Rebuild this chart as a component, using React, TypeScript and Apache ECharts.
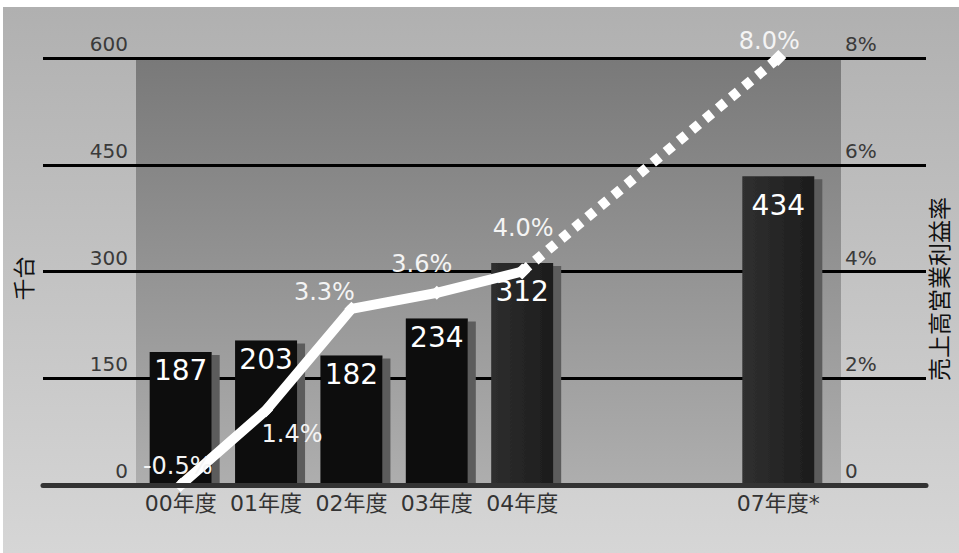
import React, { useEffect, useRef } from 'react';
import * as echarts from 'echarts';

// ---- data ----
const categories = ['00年度', '01年度', '02年度', '03年度', '04年度', '', '', '07年度*'];
const salesActual: (number | null)[] = [187, 203, 182, 234, 312, null, null, null];
const salesForecast: (number | null)[] = [null, null, null, null, null, null, null, 434];
const marginActual: (number | null)[] = [-0.5, 1.4, 3.3, 3.6, 4.0, null, null, null];
const marginForecast: (number | null)[] = [null, null, null, null, 4.0, null, null, 8.0];
const salesAxisTicks = { min: 0, max: 600, interval: 150 };
const marginAxisTicks = { min: 0, max: 8, interval: 2 };
const leftAxisName = '千台';
const rightAxisName = '売上高営業利益率';

// ---- styling / layout (not data) ----
const FONT = "'DejaVu Sans', 'Noto Sans CJK JP', sans-serif";
const marginLabelOffset: ([number, number] | null)[] = [
  [-3, -19], [26, 24], [-27, -17], [-15, -29], [1, -44], null, null, [-9, -17],
];
const barLabelDistance = [5, 5, 5, 5, 15, 5, 5, 15];

const grad = (c0: string, c1: string, horizontal = false) =>
  new echarts.graphic.LinearGradient(0, 0, horizontal ? 1 : 0, horizontal ? 0 : 1, [
    { offset: 0, color: c0 },
    { offset: 1, color: c1 },
  ]);

const barColor = (i: number) => {
  if (i < 4) return '#0b0b0b';
  if (i === 4) return grad('#2e2e2e', '#1c1c1c', true);
  return grad('#303030', '#1c1c1c', true);
};

const fmtPct = (v: number) => `${v.toFixed(1)}%`;

export default function App() {
  const ref = useRef<HTMLDivElement>(null);
  useEffect(() => {
    if (!ref.current) return;
    const chart = echarts.init(ref.current, undefined, { renderer: 'svg' });
    const floor = marginAxisTicks.min;

    const shadow = {
      shadowColor: '#5c5c5c',
      shadowBlur: 0,
      shadowOffsetX: 8,
      shadowOffsetY: 3,
    };

    const barLabel = {
      show: true,
      position: 'insideTop',
      color: '#ffffff',
      fontSize: 28,
      fontFamily: FONT,
    };

    const lineLabelBase = {
      show: true,
      position: 'inside',
      color: '#f4f4f4',
      fontSize: 24,
      fontFamily: FONT,
    };

    chart.setOption({
      animation: false,
      textStyle: { fontFamily: FONT },
      graphic: [
        {
          type: 'rect',
          z: -10,
          shape: { x: 3, y: 7, width: 956, height: 546 },
          style: { fill: grad('#b0b0b0', '#d6d6d6') },
          silent: true,
        },
        {
          type: 'rect',
          z: -9,
          shape: { x: 136, y: 58, width: 705, height: 427 },
          style: { fill: grad('#797979', '#aeaeae') },
          silent: true,
        },
      ],
      grid: [
        { left: 43, right: 33, top: 58, bottom: 68 },
        { left: 138, right: 133, top: 58, bottom: 68 },
      ],
      xAxis: [
        {
          gridIndex: 0,
          type: 'category',
          data: [''],
          z: 5,
          axisLine: { show: true, lineStyle: { color: '#333333', width: 5 } },
          axisTick: { show: false },
          axisLabel: { show: false },
          splitLine: { show: false },
        },
        {
          gridIndex: 1,
          type: 'category',
          data: categories,
          axisLine: { show: false },
          axisTick: { show: false },
          axisLabel: { color: '#333333', fontSize: 22, margin: 7, interval: 0, fontFamily: FONT },
        },
        {
          gridIndex: 1,
          type: 'category',
          data: categories,
          show: false,
        },
      ],
      yAxis: [
        {
          gridIndex: 0,
          type: 'value',
          ...salesAxisTicks,
          axisLine: { show: false },
          axisTick: { show: false },
          axisLabel: { show: false },
          splitLine: { show: true, lineStyle: { color: '#000000', width: 3 } },
        },
        {
          gridIndex: 1,
          type: 'value',
          position: 'left',
          ...salesAxisTicks,
          axisLine: { show: false },
          axisTick: { show: false },
          splitLine: { show: false },
          axisLabel: {
            color: '#3a3a3a',
            fontSize: 20,
            margin: 10,
            verticalAlign: 'bottom',
            padding: [0, 0, 4, 0],
            fontFamily: FONT,
          },
          name: leftAxisName,
          nameLocation: 'middle',
          nameRotate: 90,
          nameGap: 103,
          nameTextStyle: { color: '#111111', fontSize: 22, fontFamily: FONT, padding: [0, 0, 0, -14] },
        },
        {
          gridIndex: 1,
          type: 'value',
          position: 'right',
          ...marginAxisTicks,
          axisLine: { show: false },
          axisTick: { show: false },
          splitLine: { show: false },
          axisLabel: {
            color: '#3a3a3a',
            fontSize: 20,
            margin: 24,
            verticalAlign: 'bottom',
            padding: [0, 0, 4, 0],
            fontFamily: FONT,
            formatter: (v: number) => (v === 0 ? '0' : `${v}%`),
          },
          name: rightAxisName,
          nameLocation: 'middle',
          nameRotate: 90,
          nameGap: 107,
          nameTextStyle: { color: '#111111', fontSize: 23, fontFamily: FONT, padding: [0, 0, 0, -35] },
        },
      ],
      series: [
        {
          name: '販売台数',
          type: 'bar',
          xAxisIndex: 1,
          yAxisIndex: 1,
          barWidth: 62,
          z: 2,
          data: salesActual.map((v, i) =>
            v == null
              ? '-'
              : {
                  value: v,
                  itemStyle: { color: barColor(i), ...shadow },
                  label: { distance: barLabelDistance[i] },
                }
          ),
          label: barLabel,
        },
        {
          name: '販売台数(予)',
          type: 'bar',
          xAxisIndex: 2,
          yAxisIndex: 1,
          barWidth: 72,
          z: 2,
          data: salesForecast.map((v, i) =>
            v == null
              ? '-'
              : {
                  value: v,
                  itemStyle: { color: barColor(i), ...shadow },
                  label: { distance: barLabelDistance[i] },
                }
          ),
          label: barLabel,
        },
        {
          name: '売上高営業利益率',
          type: 'line',
          xAxisIndex: 1,
          yAxisIndex: 2,
          z: 4,
          symbol: 'diamond',
          symbolSize: 14,
          itemStyle: { color: '#ffffff' },
          lineStyle: { color: '#ffffff', width: 10, cap: 'butt' },
          data: marginActual.map((v, i) =>
            v == null
              ? '-'
              : {
                  value: Math.max(v, floor),
                  label: { offset: marginLabelOffset[i] || [0, 0] },
                }
          ),
          label: {
            ...lineLabelBase,
            formatter: (p: any) => fmtPct(marginActual[p.dataIndex] as number),
          },
        },
        {
          name: '売上高営業利益率(予)',
          type: 'line',
          xAxisIndex: 1,
          yAxisIndex: 2,
          z: 4,
          connectNulls: true,
          symbol: 'diamond',
          symbolSize: 16,
          itemStyle: { color: '#ffffff' },
          lineStyle: { color: '#ffffff', width: 10, type: [9, 8], cap: 'butt' },
          data: marginForecast.map((v, i) =>
            v == null
              ? '-'
              : {
                  value: Math.max(v, floor),
                  label: {
                    show: i === marginForecast.length - 1,
                    offset: marginLabelOffset[i] || [0, 0],
                  },
                }
          ),
          label: {
            ...lineLabelBase,
            formatter: (p: any) => fmtPct(marginForecast[p.dataIndex] as number),
          },
        },
      ],
    });
    return () => chart.dispose();
  }, []);

  return (
    <div
      ref={ref}
      style={{ position: 'fixed', left: 0, top: 0, width: 959, height: 553, background: '#ffffff' }}
    />
  );
}
